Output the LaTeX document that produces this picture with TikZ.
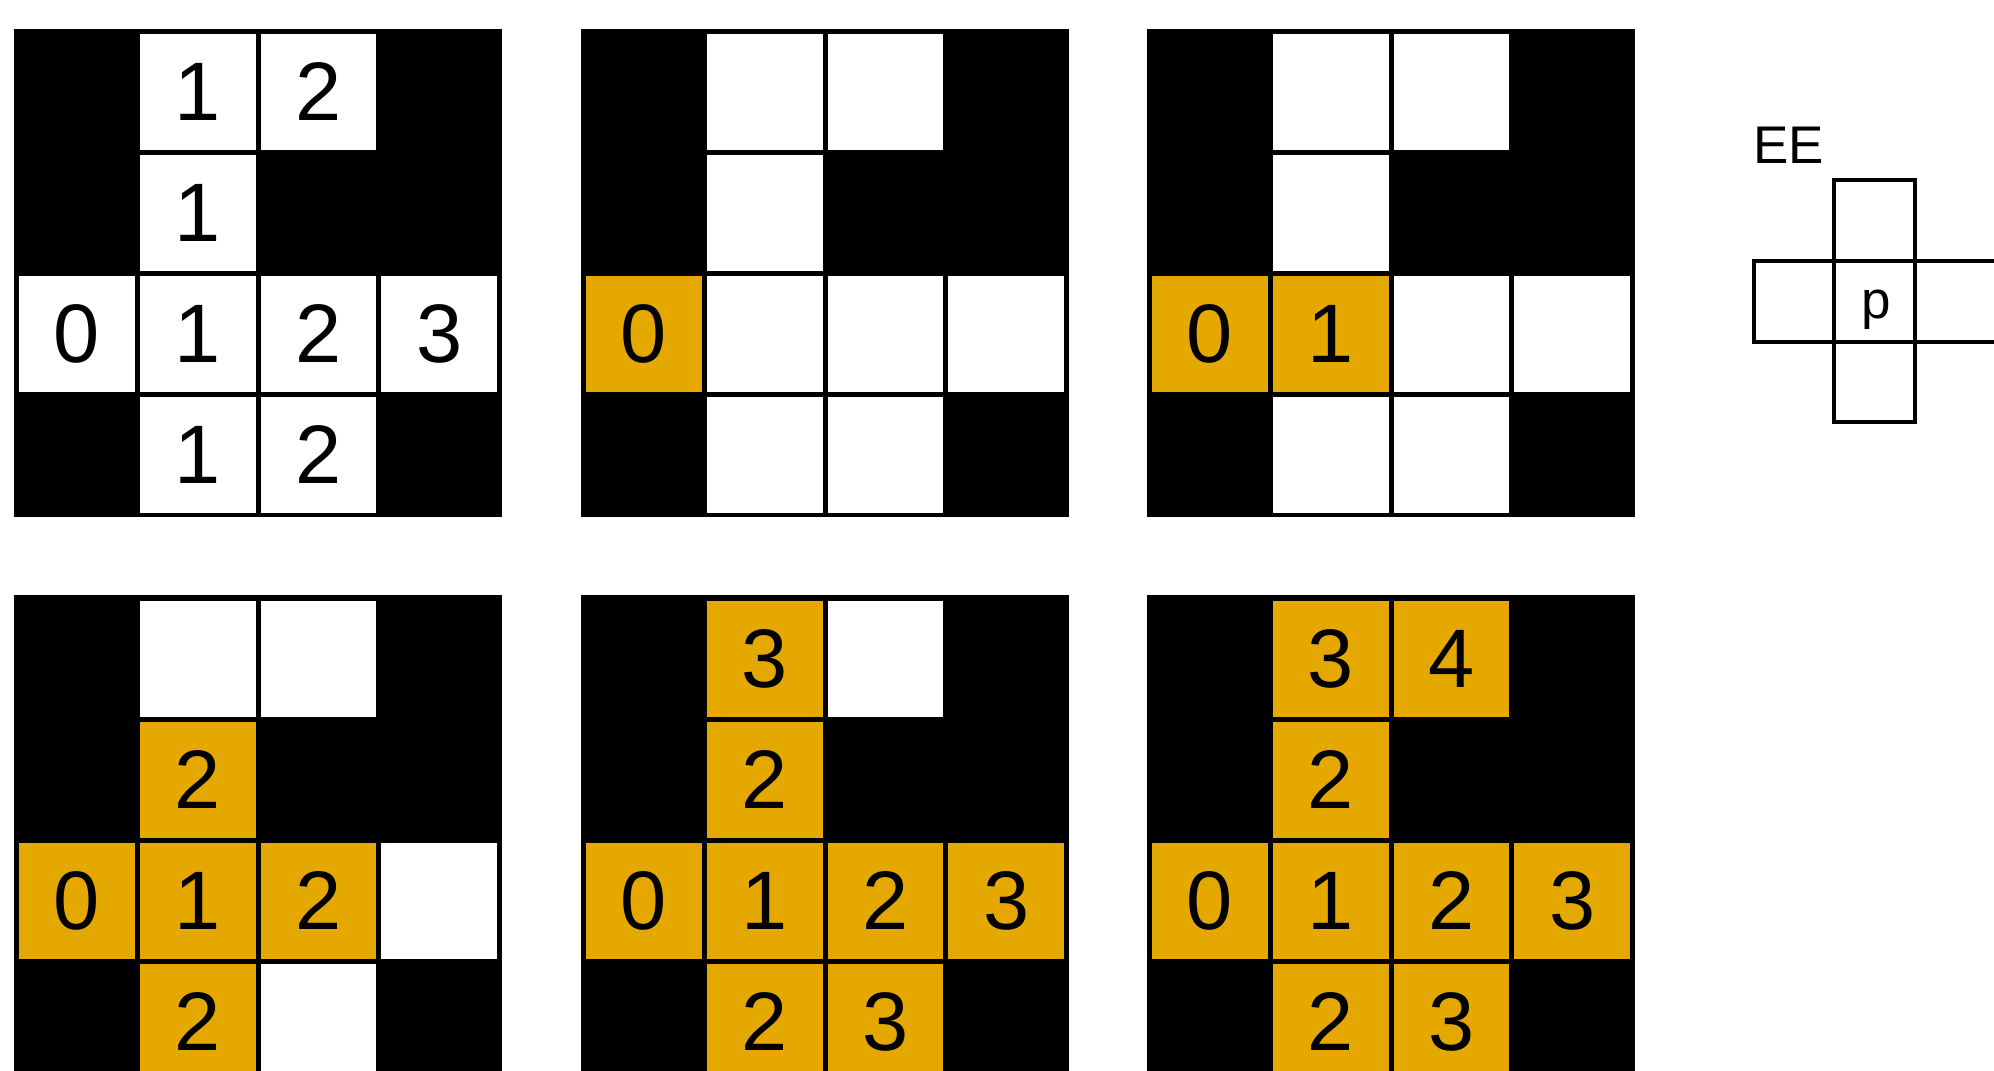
\documentclass[tikz,border=0pt]{standalone}
\usepackage{fontspec}
\setmainfont{Liberation Sans}
\definecolor{visited}{RGB}{228,168,0}

\begin{document}
\begin{tikzpicture}[x=0.5pt, y=-0.5pt,
  num/.style={font=\fontsize{41.5}{41.5}\selectfont, inner sep=0pt},
  lbl/.style={font=\fontsize{26.5}{26.5}\selectfont, inner sep=0pt},
  stencil/.style={line width=1.6pt}]
\clip (0,0) rectangle (1994,1071);
\def\rstep{121}\def\rh{116}\def\roff{5}

% Top row: distance map, then first steps
\begin{scope}[shift={(14,28.5)}]
\fill[black] (0,0) rectangle (488,488.5);
\foreach \c/\r in {1/0, 2/0, 1/1, 0/2, 1/2, 2/2, 3/2, 1/3, 2/3}
  \fill[white] ({5+\c*120.75},{\roff+\r*\rstep}) rectangle ++(115.75,\rh);
\foreach \c/\r/\t in {1/0/1, 2/0/2, 1/1/1, 0/2/0, 1/2/1, 2/2/2, 3/2/3, 1/3/1, 2/3/2}
  \node[num] (a-\r\c) at ({62.9+\c*120.75},{\roff+\rh/2+\r*\rstep}) {\t};
\end{scope}

\begin{scope}[shift={(581,28.5)}]
\fill[black] (0,0) rectangle (488,488.5);
\foreach \c/\r in {1/0, 2/0, 1/1, 0/2, 1/2, 2/2, 3/2, 1/3, 2/3}
  \fill[white] ({5+\c*120.75},{\roff+\r*\rstep}) rectangle ++(115.75,\rh);
\foreach \c/\r in {0/2}
  \fill[visited] ({5+\c*120.75},{\roff+\r*\rstep}) rectangle ++(115.75,\rh);
\foreach \c/\r/\t in {0/2/0}
  \node[num] (b-\r\c) at ({62.9+\c*120.75},{\roff+\rh/2+\r*\rstep}) {\t};
\end{scope}

\begin{scope}[shift={(1147,28.5)}]
\fill[black] (0,0) rectangle (488,488.5);
\foreach \c/\r in {1/0, 2/0, 1/1, 0/2, 1/2, 2/2, 3/2, 1/3, 2/3}
  \fill[white] ({5+\c*120.75},{\roff+\r*\rstep}) rectangle ++(115.75,\rh);
\foreach \c/\r in {0/2, 1/2}
  \fill[visited] ({5+\c*120.75},{\roff+\r*\rstep}) rectangle ++(115.75,\rh);
\foreach \c/\r/\t in {0/2/0, 1/2/1}
  \node[num] (c-\r\c) at ({62.9+\c*120.75},{\roff+\rh/2+\r*\rstep}) {\t};
\end{scope}

% Bottom row: later steps (cut at the bottom edge)
\def\roff{5.5}
\begin{scope}[shift={(14,595)}]
\fill[black] (0,0) rectangle (488,490);
\foreach \c/\r in {1/0, 2/0, 1/1, 0/2, 1/2, 2/2, 3/2, 1/3, 2/3}
  \fill[white] ({5+\c*120.75},{\roff+\r*\rstep}) rectangle ++(115.75,\rh);
\foreach \c/\r in {1/1, 0/2, 1/2, 2/2, 1/3}
  \fill[visited] ({5+\c*120.75},{\roff+\r*\rstep}) rectangle ++(115.75,\rh);
\foreach \c/\r/\t in {1/1/2, 0/2/0, 1/2/1, 2/2/2, 1/3/2}
  \node[num] (d-\r\c) at ({62.9+\c*120.75},{\roff+\rh/2+\r*\rstep}) {\t};
\end{scope}

\begin{scope}[shift={(581,595)}]
\fill[black] (0,0) rectangle (488,490);
\foreach \c/\r in {1/0, 2/0, 1/1, 0/2, 1/2, 2/2, 3/2, 1/3, 2/3}
  \fill[white] ({5+\c*120.75},{\roff+\r*\rstep}) rectangle ++(115.75,\rh);
\foreach \c/\r in {1/0, 1/1, 0/2, 1/2, 2/2, 3/2, 1/3, 2/3}
  \fill[visited] ({5+\c*120.75},{\roff+\r*\rstep}) rectangle ++(115.75,\rh);
\foreach \c/\r/\t in {1/0/3, 1/1/2, 0/2/0, 1/2/1, 2/2/2, 3/2/3, 1/3/2, 2/3/3}
  \node[num] (e-\r\c) at ({62.9+\c*120.75},{\roff+\rh/2+\r*\rstep}) {\t};
\end{scope}

\begin{scope}[shift={(1147,595)}]
\fill[black] (0,0) rectangle (488,490);
\foreach \c/\r in {1/0, 2/0, 1/1, 0/2, 1/2, 2/2, 3/2, 1/3, 2/3}
  \fill[visited] ({5+\c*120.75},{\roff+\r*\rstep}) rectangle ++(115.75,\rh);
\foreach \c/\r/\t in {1/0/3, 2/0/4, 1/1/2, 0/2/0, 1/2/1, 2/2/2, 3/2/3, 1/3/2, 2/3/3}
  \node[num] (f-\r\c) at ({62.9+\c*120.75},{\roff+\rh/2+\r*\rstep}) {\t};
\end{scope}

% Structuring element
\draw[stencil] (1834,180) rectangle (1915,422);
\draw[stencil] (1754,261) rectangle (1998,342);
\node[lbl, anchor=base west] (ee) at (1753,163) {EE};
\node[lbl] (p) at (1876,310) {p};
\end{tikzpicture}
\end{document}
